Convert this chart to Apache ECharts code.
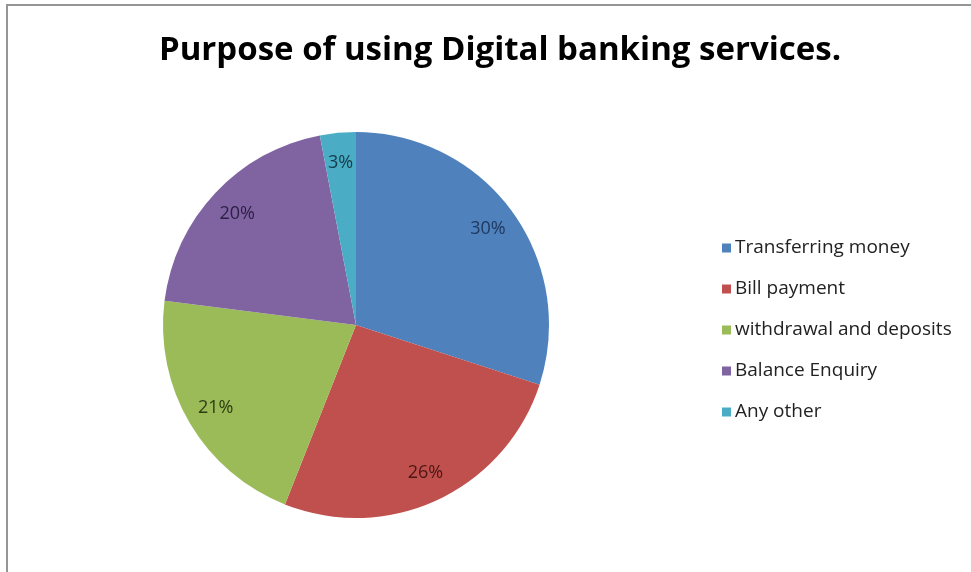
<!DOCTYPE html>
<html>
<head>
<meta charset="utf-8">
<script src="https://cdn.jsdelivr.net/npm/echarts@6/dist/echarts.min.js"></script>
<style>
  html, body { margin: 0; padding: 0; background: #ffffff; }
  #chart { width: 971px; height: 572px; }
</style>
</head>
<body>
<div id="chart"></div>
<script>
// Share of respondents by purpose of using digital banking
const categories = [
  'Transferring money',
  'Bill payment',
  'withdrawal and deposits',
  'Balance Enquiry',
  'Any other'
];
const shares = [30, 26, 21, 20, 3];
const sliceColors = ['#4F81BD', '#C0504D', '#9BBB59', '#8064A2', '#4BACC6'];
const labelColors = ['#1F3A60', '#4C1614', '#2C3D12', '#2D2046', '#143C48'];

const pieData = categories.map((name, i) => ({
  name: name,
  value: shares[i],
  itemStyle: { color: sliceColors[i] }
}));

const labelData = categories.map((name, i) => ({
  name: name,
  value: shares[i],
  label: { color: labelColors[i] }
}));

const chart = echarts.init(document.getElementById('chart'), null, { renderer: 'canvas' });

chart.setOption({
  backgroundColor: '#ffffff',
  animation: false,
  title: {
    text: 'Purpose of using Digital banking services.',
    left: 495,
    top: 29,
    textAlign: 'center',
    textStyle: {
      fontFamily: '"Open Sans", "Noto Sans", sans-serif',
      fontWeight: 'bold',
      fontSize: 33,
      color: '#000000'
    }
  },
  legend: {
    orient: 'vertical',
    left: 717,
    top: 233,
    itemWidth: 9,
    itemHeight: 9,
    itemGap: 21,
    icon: 'rect',
    data: categories,
    textStyle: {
      fontFamily: '"Open Sans", "Noto Sans", sans-serif',
      fontSize: 19,
      lineHeight: 20,
      color: '#222222',
      padding: [0, 0, 0, -1]
    }
  },
  graphic: [{
    type: 'rect',
    shape: { x: 7, y: 5, width: 1000, height: 600 },
    style: { fill: 'none', stroke: '#959595', lineWidth: 2 },
    silent: true,
    z: 100
  }],
  series: [
    {
      name: 'Purpose',
      type: 'pie',
      center: [356, 325],
      radius: [0, 193],
      startAngle: 90,
      clockwise: true,
      label: { show: false },
      labelLine: { show: false },
      itemStyle: { borderWidth: 0 },
      emphasis: { disabled: true },
      data: pieData
    },
    {
      // transparent ring carrying the percentage labels near the rim
      name: 'Labels',
      type: 'pie',
      center: [356, 325],
      radius: [127, 193],
      startAngle: 90,
      clockwise: true,
      silent: true,
      legendHoverLink: false,
      itemStyle: { color: 'rgba(0,0,0,0)' },
      label: {
        show: true,
        position: 'inside',
        formatter: '{c}%',
        fontFamily: '"Open Sans", "Noto Sans", sans-serif',
        fontSize: 18
      },
      labelLine: { show: false },
      emphasis: { disabled: true },
      data: labelData
    }
  ]
});
</script>
</body>
</html>
